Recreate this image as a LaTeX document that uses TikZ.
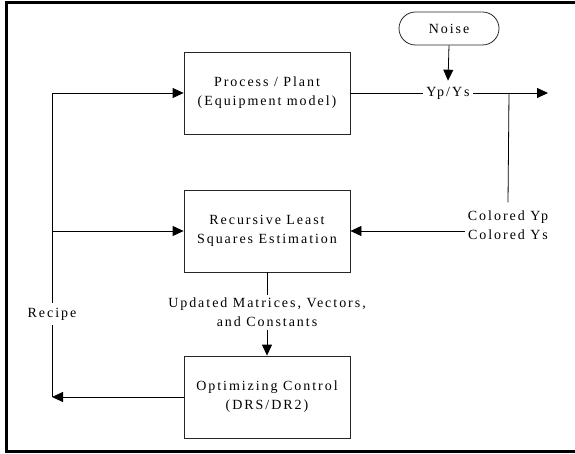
\documentclass[tikz,border=0pt]{standalone}
\usepackage{fontspec}
\setmainfont[LetterSpace=14]{Liberation Serif}
\usetikzlibrary{arrows.meta,shapes.misc}
\begin{document}
\begin{tikzpicture}[x=1pt,y=-1pt,
  font=\fontsize{14}{19}\selectfont,
  blk/.style={draw=black!85,line width=0.8pt,minimum width=166pt,minimum height=82pt,align=center,inner sep=0pt},
  lbl/.style={fill=white,align=center,inner xsep=3pt},
  conn/.style={line width=0.8pt},
  arr/.style={conn,-{Triangle[length=11pt,width=10pt]}}]
\useasboundingbox (0,0) rectangle (575,454);
\draw[line width=3pt] (6.5,3) rectangle (578,451.5);
% blocks
\node[blk] (proc) at (267,93) {Process / Plant\\(Equipment model)};
\node[blk] (rls) at (267,231) {Recursive Least\\Squares Estimation};
\node[blk] (opt) at (267,397) {Optimizing Control\\(DRS/DR2)};
\node[draw=black!85,line width=0.8pt,rounded rectangle,minimum width=100pt,minimum height=33pt,inner sep=0pt] (noise) at (449,28.5) {Noise};
% coordinates
\coordinate (out) at (548,93);
\coordinate (br) at (509,93);
\coordinate (cl) at (52,397);
\coordinate (ct) at (52,93);
\coordinate (cm) at (52,231);
% right side
\draw[arr] (proc.east) -- (out);
\node[lbl,inner ysep=6pt] (yp) at (448,93) {Yp/Ys};
\draw[arr] (noise.south) -- (yp.north);
\node[align=center,inner xsep=3pt,inner ysep=8pt] (col) at (508,225) {Colored Yp\\Colored Ys};
\draw[conn] (br) -- (col.north);
\draw[arr] (col.west |- rls.east) -- (rls.east);
% middle
\node[align=center,inner xsep=3pt,inner ysep=3pt] (upd) at (267,312.5) {Updated Matrices, Vectors,\\and Constants};
\draw[conn] (rls.south) -- (upd.north);
\draw[arr] (upd.south) -- (opt.north);
% left loop
\draw[arr] (opt.west) -- (cl);
\draw[conn] (cl) -- (ct);
\draw[arr] (ct) -- (proc.west);
\draw[arr] (cm) -- (rls.west);
\node[lbl,inner ysep=5pt] (recipe) at (52,314) {Recipe};
\end{tikzpicture}
\end{document}
